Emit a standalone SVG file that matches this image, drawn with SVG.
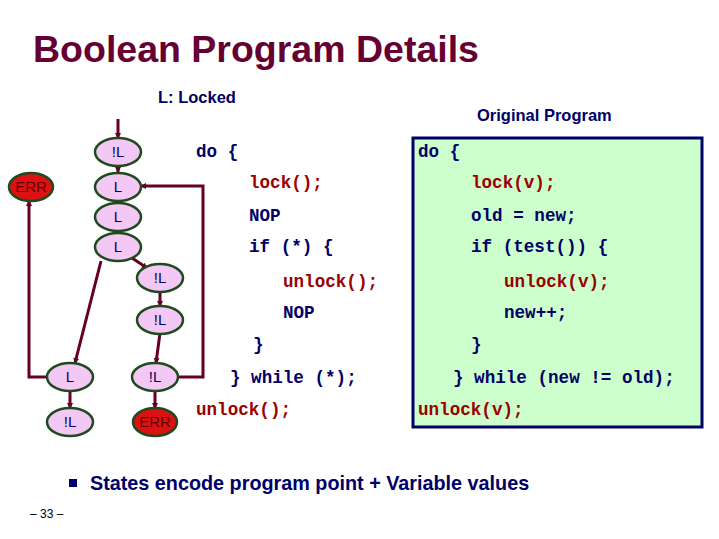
<svg xmlns="http://www.w3.org/2000/svg" width="719" height="539" viewBox="0 0 719 539">
<style>
.t{font-family:"Liberation Sans",Arial,sans-serif;font-weight:bold;fill:#000066}
.c{font-family:"Liberation Mono","Courier New",monospace;font-weight:bold;font-size:17.6px;fill:#000066}
.r{fill:#990000}
.n ellipse{fill:#f4c8f4;stroke:#1f4a1f;stroke-width:2.5}
.n.e ellipse{fill:#dd1111}
.n text{font-family:"Liberation Sans",Arial,sans-serif;font-size:15px;fill:#000066;text-anchor:middle}
.n.e text{fill:#660000}
#edges path{fill:none;stroke:#660022;stroke-width:3;marker-end:url(#a)}
</style>
<defs><marker id="a" markerWidth="6" markerHeight="6" refX="5" refY="3" orient="auto" markerUnits="userSpaceOnUse"><path d="M0,0L6,3L0,6z" fill="#660022"/></marker></defs>
<rect width="719" height="539" fill="#fff"/>
<text x="33" y="62" class="t" style="font-size:37.5px;fill:#660033;font-weight:bold">Boolean Program Details</text>
<text x="158" y="103" class="t" font-size="16.5">L: Locked</text>
<text x="477" y="121" class="t" font-size="16.5">Original Program</text>
<rect x="413" y="138" width="289" height="289" fill="#ccffcc" stroke="#000066" stroke-width="3"/>
<g id="edges">
<path d="M118,119V138"/>
<path d="M118,165V172"/>
<path d="M177,377H203V186H141"/>
<path d="M48,377H29V201"/>
<path d="M132,258L147,268"/>
<path d="M101,261L75,363"/>
<path d="M160,291V306"/>
<path d="M160,333L156,363"/>
<path d="M70,390V408"/>
<path d="M155,390V408"/>
</g>
<g id="n1" class="n"><ellipse cx="118" cy="152" rx="23" ry="14"/><text x="118" y="157">!L</text></g>
<g id="n2" class="n"><ellipse cx="118" cy="187" rx="23" ry="14"/><text x="118" y="192">L</text></g>
<g id="n3" class="n"><ellipse cx="118" cy="217" rx="23" ry="14"/><text x="118" y="222">L</text></g>
<g id="n4" class="n"><ellipse cx="118" cy="247" rx="23" ry="14"/><text x="118" y="252">L</text></g>
<g id="n5" class="n"><ellipse cx="160" cy="278" rx="23" ry="14"/><text x="160" y="283">!L</text></g>
<g id="n6" class="n"><ellipse cx="160" cy="320" rx="23" ry="14"/><text x="160" y="325">!L</text></g>
<g id="n7" class="n"><ellipse cx="70" cy="377" rx="23" ry="14"/><text x="70" y="382">L</text></g>
<g id="n8" class="n"><ellipse cx="155" cy="377" rx="23" ry="14"/><text x="155" y="382">!L</text></g>
<g id="n9" class="n"><ellipse cx="70" cy="422" rx="23" ry="14"/><text x="70" y="427">!L</text></g>
<g id="err1" class="n e"><ellipse cx="155" cy="422" rx="22" ry="14"/><text x="155" y="427">ERR</text></g>
<g id="err0" class="n e"><ellipse cx="31" cy="187" rx="22" ry="14"/><text x="31" y="192">ERR</text></g>
<g class="c">
<text x="196" y="157">do {</text>
<text x="249" y="188" class="r">lock();</text>
<text x="249" y="221">NOP</text>
<text x="249" y="252">if (*) {</text>
<text x="283" y="287" class="r">unlock();</text>
<text x="283" y="318">NOP</text>
<text x="253" y="350">}</text>
<text x="230" y="383">} while (*);</text>
<text x="196" y="415" class="r">unlock();</text>
<text x="418" y="157">do {</text>
<text x="471" y="188" class="r">lock(v);</text>
<text x="471" y="221">old = new;</text>
<text x="471" y="252">if (test()) {</text>
<text x="504" y="287" class="r">unlock(v);</text>
<text x="504" y="318">new++;</text>
<text x="471" y="350">}</text>
<text x="453" y="383">} while (new != old);</text>
<text x="418" y="415" class="r">unlock(v);</text>
</g>
<rect x="69" y="479" width="8" height="8" fill="#000066"/>
<text x="90" y="490" class="t" font-size="19.8">States encode program point + Variable values</text>
<text x="30" y="518" font-family="Liberation Sans,Arial,sans-serif" font-size="12" fill="#000">– 33 –</text>
</svg>
